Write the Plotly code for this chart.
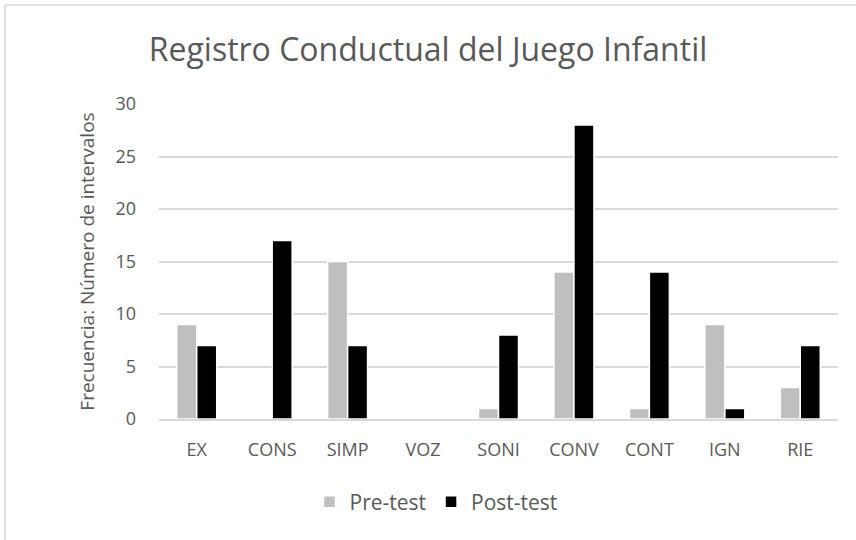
import plotly.graph_objects as go

categories = ["EX", "CONS", "SIMP", "VOZ", "SONI", "CONV", "CONT", "IGN", "RIE"]
pre_test = [9, 0, 15, 0, 1, 14, 1, 9, 3]
post_test = [7, 17, 7, 0, 8, 28, 14, 1, 7]
y_ticks = [0, 5, 10, 15, 20, 25, 30]

FONT = "Open Sans"
GRAY_TXT = "#595959"

fig = go.Figure()
fig.add_trace(go.Bar(x=categories, y=pre_test, name="Pre-test",
                     marker=dict(color="#bfbfbf", line=dict(color="white", width=1.5))))
fig.add_trace(go.Bar(x=categories, y=post_test, name="Post-test",
                     marker=dict(color="#000000", line=dict(color="white", width=1.5))))

L, R, T, B = 159, 18, 104, 121
W, H = 856, 540
pw, ph = W - L - R, H - T - B

def px(x):
    return (x - L) / pw

def py(y):
    return (H - B - y) / ph

fig.update_layout(
    width=W, height=H,
    margin=dict(l=L, r=R, t=T, b=B, autoexpand=False),
    paper_bgcolor="white", plot_bgcolor="white",
    barmode="group", bargap=0.47, bargroupgap=0.0,
    font=dict(family=FONT, color=GRAY_TXT, size=18),
    title=dict(text="Registro Conductual del Juego Infantil",
               x=428 / W, xanchor="center", y=1 - 50 / H, yanchor="middle",
               font=dict(family=FONT, size=32, color=GRAY_TXT)),
    showlegend=True,
    legend=dict(orientation="h", x=px(436), xanchor="center", y=py(502), yanchor="middle",
                font=dict(family=FONT, size=21, color=GRAY_TXT), traceorder="normal",
                itemwidth=30),
    xaxis=dict(showgrid=False, showline=True, linecolor="#d9d9d9", linewidth=1.5,
               ticks="", ticklabelstandoff=14, automargin=False,
               tickfont=dict(size=18, color=GRAY_TXT)),
    yaxis=dict(range=[0, 30], tickvals=y_ticks, showgrid=True, gridcolor="#d9d9d9",
               gridwidth=1.5, zeroline=False, showline=False, ticks="", automargin=False,
               ticklabelstandoff=22, tickfont=dict(size=18, color=GRAY_TXT),
               title=dict(text="Frecuencia: Número de intervalos", standoff=15,
                          font=dict(family=FONT, size=19, color=GRAY_TXT))),
    shapes=[
        dict(type="line", xref="paper", yref="paper", x0=px(5), x1=px(W + 2), y0=py(5), y1=py(5),
             line=dict(color="#d9d9d9", width=1.5)),
        dict(type="line", xref="paper", yref="paper", x0=px(5), x1=px(5), y0=py(5), y1=py(H + 2),
             line=dict(color="#d9d9d9", width=1.5)),
    ],
)

fig.write_html("out.html", config={"displayModeBar": False},
               post_script="document.body.style.margin='0';document.body.style.overflow='hidden';")
